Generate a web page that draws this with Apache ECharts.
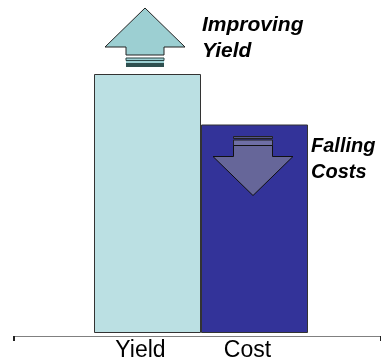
<!DOCTYPE html>
<html>
<head>
<meta charset="utf-8">
<script src="https://cdn.jsdelivr.net/npm/echarts@6/dist/echarts.min.js"></script>
<style>html,body{margin:0;padding:0;background:#fff}#c{width:381px;height:362px}</style>
</head>
<body>
<div id="c"></div>
<script>
var categories = ['Yield', 'Cost'];
var values = [100, 80.5];
var barColors = ['#BBE0E3', '#333399'];
var notes = ['Improving\nYield', 'Falling\nCosts'];

var chart = echarts.init(document.getElementById('c'), null, {renderer: 'canvas'});
var FONT = '"Liberation Sans", Arial, sans-serif';

chart.setOption({
  animation: false,
  grid: [
    {left: 94, right: 73, top: 74, bottom: 26},
    {left: 14, right: 0, top: 74, bottom: 26}
  ],
  xAxis: [
    {type: 'category', gridIndex: 0, data: categories, boundaryGap: true,
     axisLine: {show: false}, axisTick: {show: false},
     axisLabel: {color: '#000', fontSize: 23, fontFamily: FONT, margin: 6, padding: [0, 14, 0, 0]}},
    {type: 'category', gridIndex: 1, data: [''], boundaryGap: true,
     axisLine: {show: true, lineStyle: {color: '#808080', width: 1}},
     axisTick: {show: true, length: 5, lineStyle: {color: '#222', width: 2}},
     axisLabel: {show: false}}
  ],
  yAxis: [
    {type: 'value', gridIndex: 0, min: 0, max: 100, show: false},
    {type: 'value', gridIndex: 1, min: 0, max: 100, show: false}
  ],
  series: [{
    type: 'bar', xAxisIndex: 0, yAxisIndex: 0, barWidth: '100%', z: 3,
    data: values.map(function (v, i) {
      return {value: v, itemStyle: {color: barColors[i], borderColor: '#333', borderWidth: 1}};
    })
  }]
});

function px(cat, val) { return chart.convertToPixel({xAxisIndex: 0, yAxisIndex: 0}, [cat, val]); }
var p0 = px(categories[0], values[0]);
var p1 = px(categories[1], values[1]);
var halfBar = 53.5;

// up arrow above Yield bar
var ux = p0[0] - 2.5, ut = p0[1];
var upArrow = [[ux, ut - 66], [ux + 40, ut - 27], [ux + 19, ut - 27], [ux + 19, ut - 19], [ux - 19, ut - 19], [ux - 19, ut - 27], [ux - 40, ut - 27]];
// down arrow inside Cost bar
var dx = p1[0] - 1.5, dt = p1[1];
var downArrow = [[dx - 19.5, dt + 21], [dx + 19.5, dt + 21], [dx + 19.5, dt + 32], [dx + 40, dt + 32], [dx, dt + 71], [dx - 40, dt + 32], [dx - 19.5, dt + 32]];

chart.setOption({
  graphic: [
    {type: 'polygon', shape: {points: upArrow}, style: {fill: '#9CCFD2', stroke: '#222', lineWidth: 1}, z: 10},
    {type: 'rect', shape: {x: ux - 19, y: ut - 16, width: 38, height: 2.5}, style: {fill: '#9CCFD2', stroke: '#2a4545', lineWidth: 1}, z: 10},
    {type: 'rect', shape: {x: ux - 19, y: ut - 13, width: 38, height: 2}, style: {fill: '#9CCFD2'}, z: 10},
    {type: 'rect', shape: {x: ux - 19, y: ut - 11, width: 38, height: 4}, style: {fill: '#2F4F4F'}, z: 10},

    {type: 'rect', shape: {x: dx - 19.5, y: dt + 12, width: 39, height: 2}, style: {fill: '#55558a', stroke: '#222', lineWidth: 1}, z: 10},
    {type: 'rect', shape: {x: dx - 19.5, y: dt + 15.5, width: 39, height: 5.5}, style: {fill: '#6f6fa5', stroke: '#222', lineWidth: 1}, z: 10},
    {type: 'polygon', shape: {points: downArrow}, style: {fill: '#666699', stroke: '#111', lineWidth: 1}, z: 10},

    {type: 'text', x: p0[0] + halfBar + 1, y: ut - 62, z: 10,
     style: {text: notes[0], font: 'italic bold 21px ' + FONT, fill: '#000', lineHeight: 26, textVerticalAlign: 'top'}},
    {type: 'text', x: p1[0] + halfBar + 3, y: dt + 9, z: 10,
     style: {text: notes[1], font: 'italic bold 20px ' + FONT, fill: '#000', lineHeight: 26, textVerticalAlign: 'top'}}
  ]
});
</script>
</body>
</html>
